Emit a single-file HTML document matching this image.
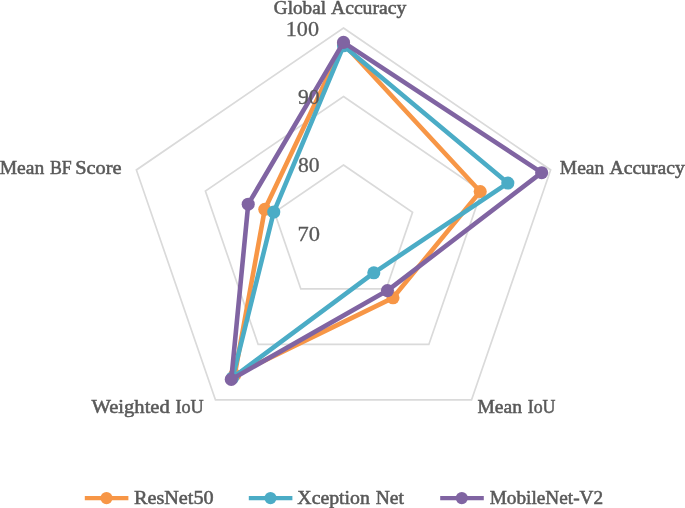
<!DOCTYPE html><html><head><meta charset="utf-8"><style>html,body{margin:0;padding:0;background:#fff}svg{display:block;will-change:transform;opacity:0.999}text{font-family:"Liberation Serif",serif;font-size:19.5px;fill:#595959;stroke:#595959;stroke-width:0.55px}text.n{stroke-width:0.3px;font-size:20.5px}</style></head><body>
<svg width="685" height="508" viewBox="0 0 685 508">
<rect width="685" height="508" fill="#fff"/>
<polygon points="343.50,164.93 412.55,212.24 386.17,288.92 300.83,288.92 274.45,212.24" fill="none" stroke="#dadada" stroke-width="1.7"/>
<polygon points="343.50,96.47 481.59,191.09 428.85,344.45 258.15,344.45 205.41,191.09" fill="none" stroke="#dadada" stroke-width="1.7"/>
<polygon points="343.50,28.00 550.64,169.93 471.52,399.97 215.48,399.97 136.36,169.93" fill="none" stroke="#dadada" stroke-width="1.7"/>
<polygon points="343.50,43.75 480.21,191.51 393.00,297.81 234.68,374.99 264.79,209.28" fill="none" stroke="#F79646" stroke-width="4.6" stroke-linejoin="round"/>
<circle cx="343.50" cy="43.75" r="6.55" fill="#F79646"/>
<circle cx="480.21" cy="191.51" r="6.55" fill="#F79646"/>
<circle cx="393.00" cy="297.81" r="6.55" fill="#F79646"/>
<circle cx="234.68" cy="374.99" r="6.55" fill="#F79646"/>
<circle cx="264.79" cy="209.28" r="6.55" fill="#F79646"/>
<polygon points="343.50,45.80 507.83,183.05 373.80,272.82 232.55,377.76 273.76,212.03" fill="none" stroke="#4BACC6" stroke-width="4.6" stroke-linejoin="round"/>
<circle cx="343.50" cy="45.80" r="6.55" fill="#4BACC6"/>
<circle cx="507.83" cy="183.05" r="6.55" fill="#4BACC6"/>
<circle cx="373.80" cy="272.82" r="6.55" fill="#4BACC6"/>
<circle cx="232.55" cy="377.76" r="6.55" fill="#4BACC6"/>
<circle cx="273.76" cy="212.03" r="6.55" fill="#4BACC6"/>
<polygon points="343.50,42.38 541.66,172.68 387.45,290.59 231.27,379.43 248.22,204.20" fill="none" stroke="#8064A2" stroke-width="4.6" stroke-linejoin="round"/>
<circle cx="343.50" cy="42.38" r="6.55" fill="#8064A2"/>
<circle cx="541.66" cy="172.68" r="6.55" fill="#8064A2"/>
<circle cx="387.45" cy="290.59" r="6.55" fill="#8064A2"/>
<circle cx="231.27" cy="379.43" r="6.55" fill="#8064A2"/>
<circle cx="248.22" cy="204.20" r="6.55" fill="#8064A2"/>
<text x="273.80" y="13.80" textLength="52.25" lengthAdjust="spacingAndGlyphs">Global</text>
<text x="331.00" y="13.80" textLength="75.25" lengthAdjust="spacingAndGlyphs">Accuracy</text>
<text class="n" x="285.74" y="35.70" textLength="33.23" lengthAdjust="spacingAndGlyphs">100</text>
<text class="n" x="298.07" y="103.90" textLength="21.58" lengthAdjust="spacingAndGlyphs">90</text>
<text class="n" x="298.07" y="172.40" textLength="21.58" lengthAdjust="spacingAndGlyphs">80</text>
<text class="n" x="297.47" y="240.90" textLength="22.50" lengthAdjust="spacingAndGlyphs">70</text>
<text x="-0.35" y="173.70" textLength="44.50" lengthAdjust="spacingAndGlyphs">Mean</text>
<text x="49.99" y="173.70" textLength="21.75" lengthAdjust="spacingAndGlyphs">BF</text>
<text x="75.23" y="173.70" textLength="46.28" lengthAdjust="spacingAndGlyphs">Score</text>
<text x="559.75" y="173.70" textLength="44.50" lengthAdjust="spacingAndGlyphs">Mean</text>
<text x="609.50" y="173.70" textLength="75.25" lengthAdjust="spacingAndGlyphs">Accuracy</text>
<text x="91.50" y="412.85" textLength="78.25" lengthAdjust="spacingAndGlyphs">Weighted</text>
<text x="175.49" y="412.85" textLength="28.26" lengthAdjust="spacingAndGlyphs">IoU</text>
<text x="477.45" y="412.85" textLength="44.50" lengthAdjust="spacingAndGlyphs">Mean</text>
<text x="527.71" y="412.85" textLength="27.73" lengthAdjust="spacingAndGlyphs">IoU</text>
<text x="133.94" y="503.90" textLength="79.71" lengthAdjust="spacingAndGlyphs">ResNet50</text>
<text x="297.35" y="503.90" textLength="72.50" lengthAdjust="spacingAndGlyphs">Xception</text>
<text x="375.70" y="503.90" textLength="28.25" lengthAdjust="spacingAndGlyphs">Net</text>
<text x="489.64" y="503.90" textLength="113.48" lengthAdjust="spacingAndGlyphs">MobileNet-V2</text>
<line x1="84.8" y1="498.1" x2="128.4" y2="498.1" stroke="#F79646" stroke-width="4.4"/>
<circle cx="106.5" cy="498.1" r="6.1" fill="#F79646"/>
<line x1="248.8" y1="498.1" x2="292.4" y2="498.1" stroke="#4BACC6" stroke-width="4.4"/>
<circle cx="270.5" cy="498.1" r="6.1" fill="#4BACC6"/>
<line x1="440.2" y1="498.1" x2="483.8" y2="498.1" stroke="#8064A2" stroke-width="4.4"/>
<circle cx="461.8" cy="498.1" r="6.1" fill="#8064A2"/>
</svg></body></html>
